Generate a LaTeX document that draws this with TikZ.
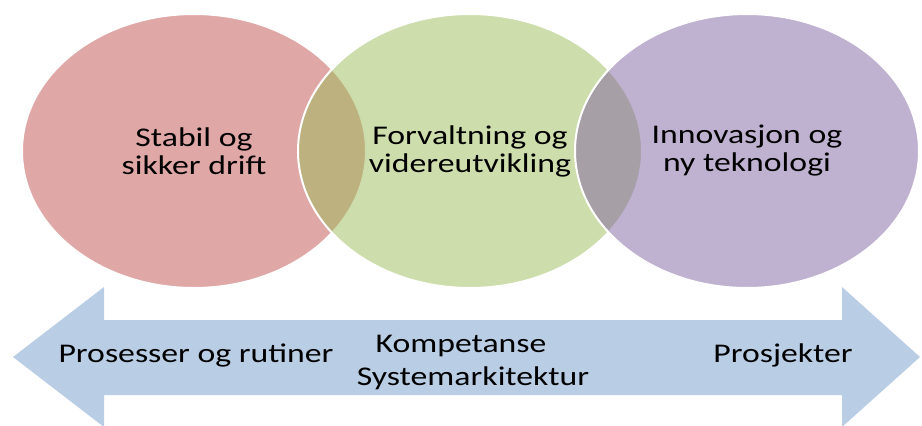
\documentclass[tikz,border=0pt]{standalone}
\usepackage{fontspec}
\setmainfont{Carlito}[FakeStretch=1.25]
\usetikzlibrary{shapes.geometric}

\definecolor{rod}{HTML}{C0504D}
\definecolor{grnn}{HTML}{9BBB59}
\definecolor{lilla}{HTML}{8064A2}
\definecolor{pilblaa}{HTML}{B9CDE5}

\tikzset{
  sirkel/.style={ellipse, draw=white, line width=2pt, fill opacity=0.5, text opacity=1,
    minimum width=344pt, minimum height=274pt, inner sep=0pt, align=center,
    font=\fontsize{27}{28}\selectfont},
  piltekst/.style={font=\fontsize{27}{28}\selectfont, inner sep=0pt, anchor=base}
}

\begin{document}
\begin{tikzpicture}[x=1pt, y=-1pt]
        \useasboundingbox (0, 0) rectangle (922, 426);

        % dobbel pil nederst
        \fill[pilblaa] (13, 357) -- (104, 287) -- (104, 320) -- (842, 320) -- (842, 287)
            -- (920, 357) -- (842, 427) -- (842, 395) -- (104, 395) -- (104, 427) -- cycle;

        \node[piltekst] (prosesser) at (196, 362) {Prosesser og rutiner};
        \node[piltekst] (kompetanse) at (461, 352) {Kompetanse};
        \node[piltekst] (arkitektur) at (473, 385) {Systemarkitektur};
        \node[piltekst] (prosjekter) at (783, 362) {Prosjekter};

        % tre sirkler
        \node[sirkel, fill=rod] (drift) at (194, 151) {Stabil og\\sikker drift};
        \node[sirkel, fill=grnn] (forvaltning) at (470, 151) {Forvaltning og\\videreutvikling};
        \node[sirkel, fill=lilla] (innovasjon) at (747, 151) {Innovasjon og\\ny teknologi};
\end{tikzpicture}
\end{document}
